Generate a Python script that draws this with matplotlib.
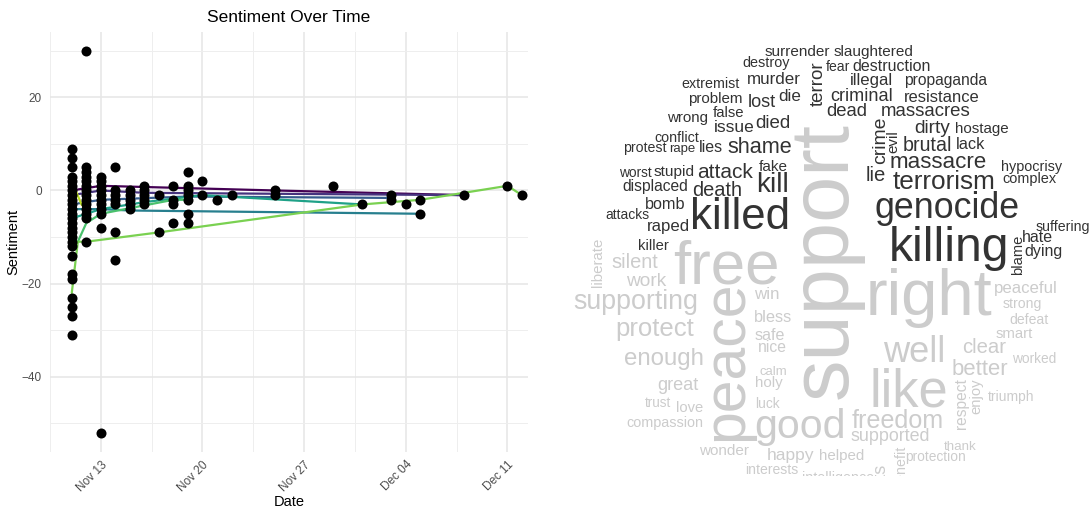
import numpy as np
import pandas as pd
import matplotlib
matplotlib.use("Agg")
from matplotlib import pyplot as plt
import matplotlib.dates as mdates

plt.rcParams['font.family'] = ['Liberation Sans', 'DejaVu Sans']

# ---------------- sentiment scores (one list of scores per day) ----------------
point_days = ["2023-11-11", "2023-11-12", "2023-11-13", "2023-11-14", "2023-11-15",
              "2023-11-16", "2023-11-17", "2023-11-18", "2023-11-19", "2023-11-20",
              "2023-11-21", "2023-11-22", "2023-11-25", "2023-11-29", "2023-12-01",
              "2023-12-03", "2023-12-04", "2023-12-05", "2023-12-08", "2023-12-11",
              "2023-12-12"]
point_scores = [
    [9, 7, 5, 3, 2, 1, 0, -1, -2, -3, -4, -5, -6, -7, -8, -9, -10, -11, -12,
     -14, -18, -19, -23, -25, -27, -31],
    [30, 5, 4, 3, 2, 1, 0, -1, -2, -3, -4, -5, -6, -11],
    [3, 2, 1, 0, -1, -2, -3, -4, -5, -8, -52],
    [5, 0, -1, -2, -3, -9, -15],
    [0, -1, -2, -3, -4],
    [1, 0, -1, -2, -3],
    [-1, -9],
    [1, -2, -3, -7],
    [4, 1, 0, -1, -2, -5, -7],
    [2, -1],
    [-2],
    [-1],
    [0, -1],
    [1],
    [-3],
    [-1, -2],
    [-3],
    [-2, -5],
    [-1],
    [1],
    [-1],
]

# ---------------- group trajectories ----------------
line_times = [
    ["2023-11-11", "2023-11-13", "2023-11-25", "2023-12-08"],
    ["2023-11-11", "2023-11-13", "2023-11-16", "2023-12-08"],
    ["2023-11-11", "2023-11-13", "2023-11-19", "2023-12-03"],
    ["2023-11-11", "2023-11-13", "2023-11-15", "2023-12-05"],
    ["2023-11-11", "2023-11-13", "2023-11-16", "2023-11-20", "2023-12-01"],
    ["2023-11-11 10:00", "2023-11-12", "2023-11-13", "2023-11-18", "2023-11-19"],
    ["2023-11-11", "2023-11-11 10:00", "2023-11-12", "2023-11-17", "2023-12-01",
     "2023-12-05", "2023-12-11", "2023-12-12"],
    ["2023-11-11", "2023-11-11 16:00", "2023-11-12"],
]
line_values = [
    [0, 1, 0, -1],
    [-1, 0, -0.5, -1],
    [-3, -2, -1.3, -1.6],
    [-4, -4, -4.3, -5],
    [-6, -4, -2.5, -1, -3],
    [-11, -7, -5, -2, -2],
    [-22, -11, -11, -9, -3, -2, 1, -1],
    [2, -3, -4],
]
line_colors = ['#440154', '#46337e', '#365c8d', '#277f8e', '#1fa187',
               '#4ac16d', '#7ad151', '#bddf26']

# ---------------- word cloud ----------------
cloud_words = [
    "surrender", "slaughtered", "destroy", "terror", "fear", "destruction",
    "extremist", "murder", "illegal", "propaganda", "problem", "lost", "die",
    "criminal", "resistance", "dead", "massacres", "wrong", "false", "issue",
    "died", "crime", "evil", "dirty", "hostage", "conflict", "protest", "rape",
    "lies", "shame", "brutal", "lack", "massacre", "hypocrisy", "complex",
    "worst", "stupid", "attack", "fake", "kill", "lie", "terrorism", "displaced",
    "death", "bomb", "attacks", "killed", "raped", "genocide", "suffering",
    "killer", "killing", "hate", "dying", "blame",
    "liberate", "free", "silent", "work", "supporting", "protect", "enough",
    "great", "trust", "love", "compassion", "wonder", "peace", "win", "bless",
    "safe", "nice", "calm", "holy", "luck", "good", "support", "right", "well",
    "like", "freedom", "supported", "happy", "helped", "interests",
    "intelligence", "rights", "benefit", "protection", "thank", "respect",
    "enjoy", "better", "clear", "peaceful", "strong", "defeat", "smart",
    "worked", "triumph",
]
cloud_weight = [
    15.3, 15.2, 14.4, 18.8, 14, 16, 14.2, 17, 16.8, 15.6, 15.1, 18.2, 17, 18.1,
    16.5, 18.5, 18.7, 15.1, 14.9, 17.4, 18.8, 19.4, 15.1, 19.1, 15.1, 14.3,
    14.1, 13.2, 16, 21.7, 19.6, 16.3, 22.4, 14.4, 14.5, 13.7, 15.4, 20.9, 15.2,
    27.8, 20.3, 26.1, 15.6, 20, 16.2, 13.9, 43.8, 16.8, 35.8, 14.1, 14.8, 48,
    16, 16, 14.7,
    15, 61.8, 20, 19.2, 26.8, 25.7, 24, 18.1, 13.5, 14.7, 14.4, 15.2, 58.9,
    16.9, 16.4, 16.1, 15.7, 13.1, 15.1, 13.7, 41, 83, 65.1, 36.3, 52.5, 25.1,
    17.9, 17.4, 15.1, 14, 14.2, 18, 14.3, 13.7, 13.4, 15.5, 14.9, 22.1, 20.3,
    16.7, 14, 14, 14.9, 13.8, 13.9,
]
cloud_negative = [True] * 55 + [False] * 45

# placement of each word: (x px, baseline y px, rotated)
cloud_layout = [
    (797, 56.4, 0), (874, 56.4, 0), (766, 67, 0), (822.8, 83.5, 1), (837.5, 71, 0),
    (891.5, 71, 0), (710, 88, 0), (774, 84, 0), (871, 84.7, 0), (945.6, 84.7, 0),
    (715, 102.6, 0), (762, 107, 0), (790, 101, 0), (861.5, 101, 0),
    (941.4, 102, 0), (847, 116, 0), (925.4, 116, 0), (688, 122, 0),
    (728.4, 117.2, 0), (734, 132.4, 0), (773, 128, 0), (885, 140.8, 1),
    (897, 142, 1), (932, 133, 0), (981.5, 133, 0), (677, 141.5, 0),
    (644.5, 151.6, 0), (682.5, 151.6, 0), (710.7, 151.6, 0), (759.8, 153.3, 0),
    (927.4, 151, 0), (970.5, 149, 0), (938, 168.5, 0), (1031.3, 171.2, 0),
    (1029.6, 182.7, 0), (635.5, 177, 0), (674, 176, 0), (724.7, 178, 0),
    (773.7, 171.2, 0), (772.8, 192.2, 0), (876, 181.4, 0), (944.3, 188.8, 0),
    (655.4, 191.5, 0), (716.8, 195.5, 0), (664.7, 209, 0), (627.6, 219.2, 0),
    (740, 229.3, 0), (668.6, 231, 0), (946.8, 217.5, 0), (1062.7, 231, 0),
    (653.6, 250.3, 0), (949.4, 261.1, 0), (1037.7, 241.8, 0), (1043.6, 256.4, 0),
    (1022, 255, 1),
    (602.2, 262, 1), (726.4, 284, 0), (634.7, 267.8, 0), (646.1, 285.7, 0),
    (636, 309.4, 0), (655.1, 336.4, 0), (663.5, 365.1, 0), (677.9, 390.5, 0),
    (658.3, 407.4, 0), (690, 412.4, 0), (665.2, 426.6, 0), (724.2, 454.7, 0),
    (742, 360.9, 1), (767, 299.3, 0), (773.3, 321.9, 0), (769.5, 339.8, 0),
    (772, 351.6, 0), (773.2, 374.6, 0), (769.1, 387.1, 0), (767.4, 408.4, 0),
    (799.9, 437.8, 0), (847, 261, 1), (929.1, 314.5, 0), (913.9, 362.4, 0),
    (908.5, 406.4, 0), (897.3, 427.6, 0), (890.2, 441.1, 0), (790.4, 459.7, 0),
    (842.1, 459.7, 0), (771.7, 473.9, 0), (838.5, 482, 0), (885, 485, 1),
    (904.6, 467.5, 1), (935.3, 461.4, 0), (959.8, 449.6, 0), (966, 404, 1),
    (980, 396.4, 1), (979.4, 375.3, 0), (984, 353.3, 0), (1025.7, 293.5, 0),
    (1022, 308.4, 0), (1028.7, 323.9, 0), (1014.4, 338.1, 0), (1034.3, 363.4, 0),
    (1011.5, 400.6, 0),
]

W, H, DPI = 1092, 508, 100
fig = plt.figure(figsize=(W / DPI, H / DPI), dpi=DPI)

# ---------------- left: sentiment over time ----------------
ax = fig.add_axes([50 / W, (H - 451.7) / H, 478 / W, 420 / H])

for t, v, c in zip(line_times, line_values, line_colors):
    ax.plot(pd.to_datetime(t, format='ISO8601'), v, color=c, lw=1.6,
            solid_capstyle='round', zorder=2)

px, py = [], []
for d, scores in zip(point_days, point_scores):
    px += [pd.Timestamp(d)] * len(scores)
    py += scores
ax.scatter(px, py, s=52, color='black', zorder=3, linewidths=0)

ax.xaxis.set_major_locator(mdates.WeekdayLocator(byweekday=mdates.MO))
ax.xaxis.set_major_formatter(mdates.DateFormatter('%b %d'))
majors = mdates.date2num(pd.to_datetime(["2023-11-13", "2023-11-20", "2023-11-27",
                                         "2023-12-04", "2023-12-11"]))
ax.set_xticks(majors - 3.5, minor=True)
ax.set_yticks([-40, -20, 0, 20])
ax.set_yticks([-50, -30, -10, 10, 30], minor=True)

# limits last, so tick setting does not widen them
ax.set_xlim(pd.Timestamp("2023-11-09 12:00"), pd.Timestamp("2023-12-12 10:00"))
ax.set_ylim(-56.1, 34.1)

ax.grid(which='major', color='#e6e6e6', lw=1.1)
ax.grid(which='minor', color='#eeeeee', lw=0.7)
ax.set_axisbelow(True)
for s in ax.spines.values():
    s.set_visible(False)
ax.tick_params(which='both', length=0, labelsize=8.5, labelcolor='#4d4d4d')
ax.tick_params(axis='y', pad=6)
ax.tick_params(axis='x', pad=5)
plt.setp(ax.get_xticklabels(), rotation=45, ha='right', rotation_mode='anchor')

ax.set_xlabel('Date', fontsize=10.5, labelpad=1)
ax.set_ylabel('Sentiment', fontsize=10.5, labelpad=1)
ax.set_title('Sentiment Over Time', fontsize=12.5, pad=7)

# ---------------- right: word cloud ----------------
cax = fig.add_axes([560 / W, (H - 476) / H, (W - 560) / W, 476 / H])
cax.set_xlim(560, W)
cax.set_ylim(476, 0)
cax.axis('off')
for word, wt, neg, (x, y, rot) in zip(cloud_words, cloud_weight, cloud_negative, cloud_layout):
    cax.text(x, y, word, fontsize=wt * 72 / DPI,
             color='#333333' if neg else '#cccccc',
             rotation=90 if rot else 0, rotation_mode='anchor',
             ha='center', va='baseline', clip_on=True)

fig.savefig('out.png', dpi=DPI)
